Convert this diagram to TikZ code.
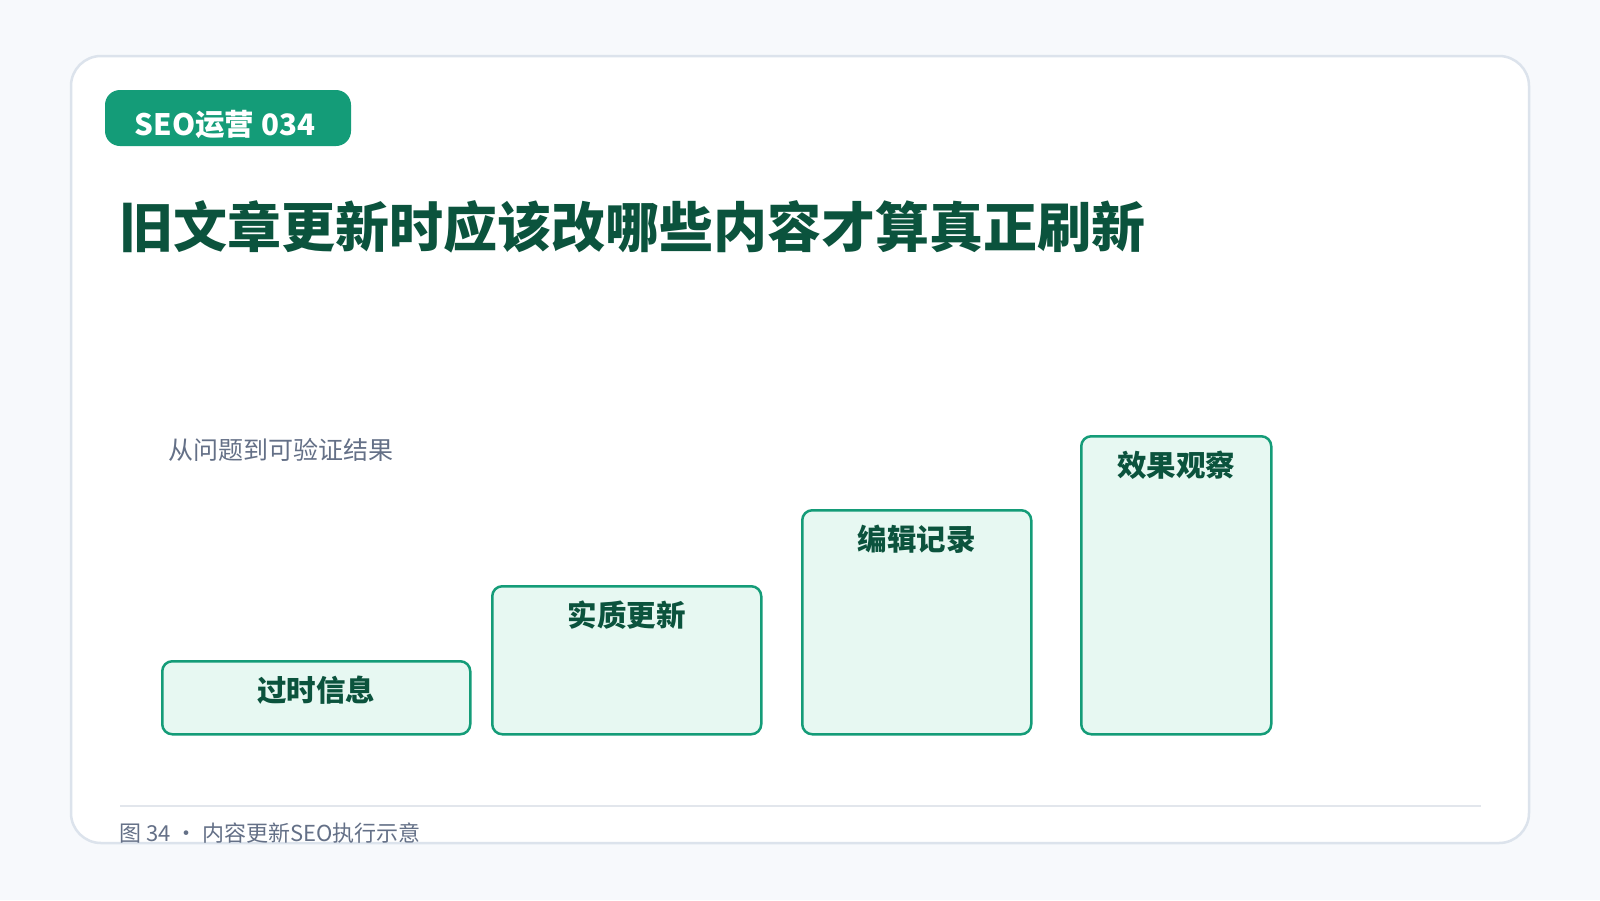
\documentclass[tikz,border=0pt]{standalone}
\usepackage{fontspec}
\newfontfamily\cjk{Noto Sans CJK SC}
\usetikzlibrary{calc}
\definecolor{pagebg}{RGB}{247,249,252}
\definecolor{cardline}{RGB}{220,227,236}
\definecolor{badgegreen}{RGB}{20,156,120}
\definecolor{titlegreen}{RGB}{11,83,61}
\definecolor{barfill}{RGB}{231,248,242}
\definecolor{barline}{RGB}{20,156,120}
\definecolor{subgray}{RGB}{100,112,135}
\definecolor{footline}{RGB}{226,230,236}

\begin{document}
\begin{tikzpicture}[x=1pt, y=-1pt,
  bar/.style={draw=barline, fill=barfill, line width=2.5pt, rounded corners=10pt, anchor=south west, inner sep=0},
  barlabel/.style={font=\cjk\bfseries\fontsize{29.5}{34}\selectfont, text=titlegreen, inner sep=0}]
\useasboundingbox (0,0) rectangle (1600,900);
\fill[pagebg] (0,0) rectangle (1600,900);
\draw[cardline, line width=2.5pt, fill=white, rounded corners=30pt] (71,56) rectangle (1529,843);
\node[fill=badgegreen, rounded corners=15pt, minimum width=246pt, minimum height=56pt, inner sep=0] (tag) at (228,118) {};
\node[anchor=base, inner sep=0, text=white, font=\cjk\bfseries\fontsize{29.5}{34}\selectfont] (tagtext) at (225,135) {SEO运营 034};
\node[anchor=west, inner sep=0, text=titlegreen, font=\cjk\bfseries\fontsize{54}{60}\selectfont] (title) at (119,227) {旧文章更新时应该改哪些内容才算真正刷新};
\node[anchor=west, inner sep=0, text=subgray, font=\cjk\fontsize{25}{29}\selectfont] (sub) at (168,450) {从问题到可验证结果};
\foreach \i/\x/\w/\h/\t in {1/161/308/73/过时信息, 2/491/269/148/实质更新, 3/801/229/224/编辑记录, 4/1080/190/298/效果观察} {
  \node[bar, minimum width=\w, minimum height=\h] (bar\i) at (\x,735.5) {};
  \node[barlabel] (lab\i) at ([yshift=-30pt]bar\i.north) {\t};
}
\draw[footline, line width=2pt] (120,806) -- (1481,806);
\node[anchor=west, inner sep=0, text=subgray, font=\cjk\fontsize{22}{26}\selectfont] (foot) at (119,833) {图 34 · 内容更新SEO执行示意};
\end{tikzpicture}
\end{document}
